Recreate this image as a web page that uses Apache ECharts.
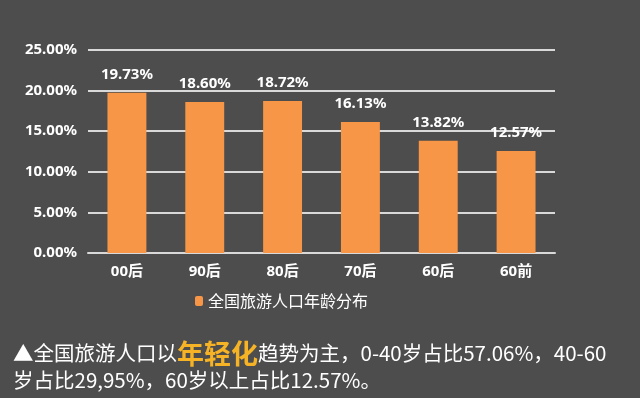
<!DOCTYPE html>
<html>
    <head>
        <meta charset="utf-8">
        <title>全国旅游人口年龄分布</title>
        <script src="https://cdn.jsdelivr.net/npm/echarts@6/dist/echarts.min.js"></script>
        <style>
            html, body { margin: 0; padding: 0; background: #4d4d4d; }
        </style>
    </head>
    <body>
        <div id="chart" style="width: 640px;height: 398px;"></div>
        <script>
            // 数据
            var categories = ['00后', '90后', '80后', '70后', '60后', '60前'];
            var values = [19.73, 18.60, 18.72, 16.13, 13.82, 12.57];
            var seriesName = '全国旅游人口年龄分布';
            var yTicks = [0, 25, 5];   // min, max, interval
            var noteLead = '▲全国旅游人口以';
            var noteKey = '年轻化';
            var noteRest = '趋势为主，0-40岁占比57.06%，40-60';
            var noteLine2 = '岁占比29,95%，60岁以上占比12.57%。';

            var labelFont = 'Noto Sans, Noto Sans CJK SC, sans-serif';
            var cjkFont = 'Noto Sans CJK SC, sans-serif';

            var option = {
                backgroundColor: '#4d4d4d',
                animation: false,
                title: {
                    left: 8,
                    top: 335,
                    text: '{a|' + noteLead + '}{b|' + noteKey + '}{a|' + noteRest + '}\n{a|' + noteLine2 + '}',
                    textStyle: {
                        fontWeight: 'normal',
                        rich: {
                            a: { fontFamily: cjkFont, fontSize: 20.5, fontWeight: 'normal', color: '#ffffff', lineHeight: 27 },
                            b: { fontFamily: cjkFont, fontSize: 27, fontWeight: 'bold', color: '#f6b326', lineHeight: 27 }
                        }
                    }
                },
                legend: {
                    data: [seriesName],
                    left: 190,
                    top: 288,
                    itemWidth: 8,
                    itemHeight: 10,
                    itemGap: 5,
                    textStyle: { color: '#ffffff', fontSize: 16, fontFamily: cjkFont }
                },
                grid: {
                    left: 88,
                    right: 85,
                    top: 50,
                    bottom: 145
                },
                xAxis: {
                    type: 'category',
                    data: categories,
                    axisLine: { lineStyle: { color: '#d9d9d9', width: 2 } },
                    axisTick: { show: false },
                    axisLabel: {
                        color: '#ffffff',
                        fontSize: 15,
                        fontWeight: 'bold',
                        fontFamily: labelFont,
                        margin: 11
                    }
                },
                yAxis: {
                    type: 'value',
                    min: yTicks[0],
                    max: yTicks[1],
                    interval: yTicks[2],
                    axisLine: { show: false },
                    axisTick: { show: false },
                    splitLine: { lineStyle: { color: '#d9d9d9', width: 2 } },
                    axisLabel: {
                        color: '#ffffff',
                        fontSize: 15,
                        fontWeight: 'bold',
                        fontFamily: labelFont,
                        margin: 11,
                        formatter: function (v) { return v.toFixed(2) + '%'; }
                    }
                },
                series: [
                    {
                        name: seriesName,
                        type: 'bar',
                        data: values,
                        barWidth: '50%',
                        itemStyle: { color: '#f79646' },
                        label: {
                            show: true,
                            position: 'top',
                            distance: 11,
                            color: '#ffffff',
                            fontSize: 15,
                            fontWeight: 'bold',
                            fontFamily: labelFont,
                            formatter: function (p) { return p.value.toFixed(2) + '%'; }
                        }
                    }
                ]
            };

            var chart = echarts.init(document.getElementById('chart'));
            chart.setOption(option);
        </script>
    </body>
</html>
